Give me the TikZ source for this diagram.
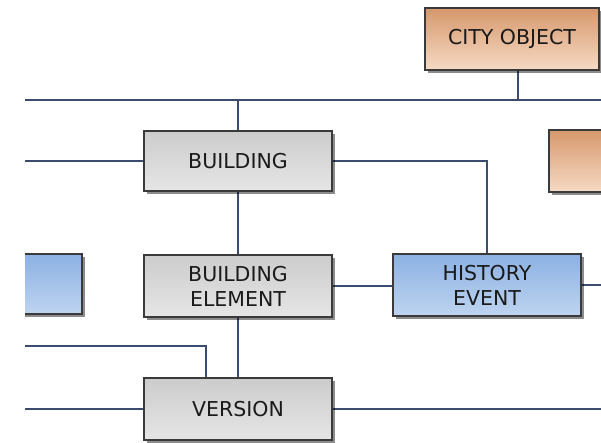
\documentclass[tikz,border=0pt]{standalone}
\usepackage{fontspec}
\newfontfamily\boxfont{DejaVu Sans}
\usetikzlibrary{shadows,backgrounds}
\definecolor{linec}{HTML}{3B4C6E}
\definecolor{bordc}{HTML}{3A3A3A}
\definecolor{txtc}{HTML}{1A1A1A}
\tikzset{
  box/.style={draw=bordc, line width=1.4pt, inner sep=0pt, minimum width=188pt, minimum height=62pt,
    align=center, text=txtc, font=\boxfont\fontsize{20.5}{25}\selectfont,
    drop shadow={shadow xshift=2.5pt, shadow yshift=-2.5pt, opacity=0.45, fill=black}},
  graybox/.style={box, top color=gray!40, bottom color=gray!20},
  orangebox/.style={box, top color={rgb,255:red,214;green,152;blue,108}, bottom color={rgb,255:red,246;green,218;blue,196}},
  bluebox/.style={box, top color={rgb,255:red,140;green,177;blue,226}, bottom color={rgb,255:red,190;green,212;blue,240}},
  conn/.style={draw=linec, line width=2pt}
}
\begin{document}
\begin{tikzpicture}[x=1pt,y=-1pt]
\useasboundingbox (0,0) rectangle (601,442);
\begin{scope}
\clip (25,0) rectangle (601,442);
% nodes
\node[orangebox, minimum width=174pt] (city) at (512,39) {CITY OBJECT};
\node[orangebox] (orR) at (643,161) {};
\node[graybox, minimum height=60pt] (bld) at (238,161) {BUILDING};
\node[graybox] (bel) at (238,286) {BUILDING\\ELEMENT};
\node[graybox] (ver) at (238,409) {VERSION};
\node[bluebox] (hev) at (487,285) {HISTORY\\EVENT};
\node[bluebox, minimum height=60pt] (blL) at (-12,284) {};
% free ends
\coordinate (topL) at (25,100);
\coordinate (topR) at (601,100);
\coordinate (lft) at (25,0);
\coordinate (rgt) at (601,0);
\coordinate (bend2) at (206,346);
\end{scope}
\begin{pgfonlayer}{background}
\clip (25,0) rectangle (601,442);
\draw[conn] (topL) -- (topR);
\draw[conn] ([xshift=6pt]city.south) -- ([xshift=6pt]city.south |- topL);
\draw[conn] (bld.north) -- (bld.north |- topL);
\draw[conn] (bld.west) -- (bld.west -| lft);
\draw[conn] (bld.east) -| (hev.north);
\draw[conn] (bld.south) -- (bel.north);
\draw[conn] (bel.south) -- (ver.north);
\draw[conn] (bel.east) -- (hev.west |- bel.east);
\draw[conn] (hev.east) -- (hev.east -| rgt);
\draw[conn] (lft |- bend2) -- (bend2) -- (bend2 |- ver.north);
\draw[conn] (ver.west) -- (ver.west -| lft);
\draw[conn] (ver.east) -- (ver.east -| rgt);
\end{pgfonlayer}
\end{tikzpicture}
\end{document}
